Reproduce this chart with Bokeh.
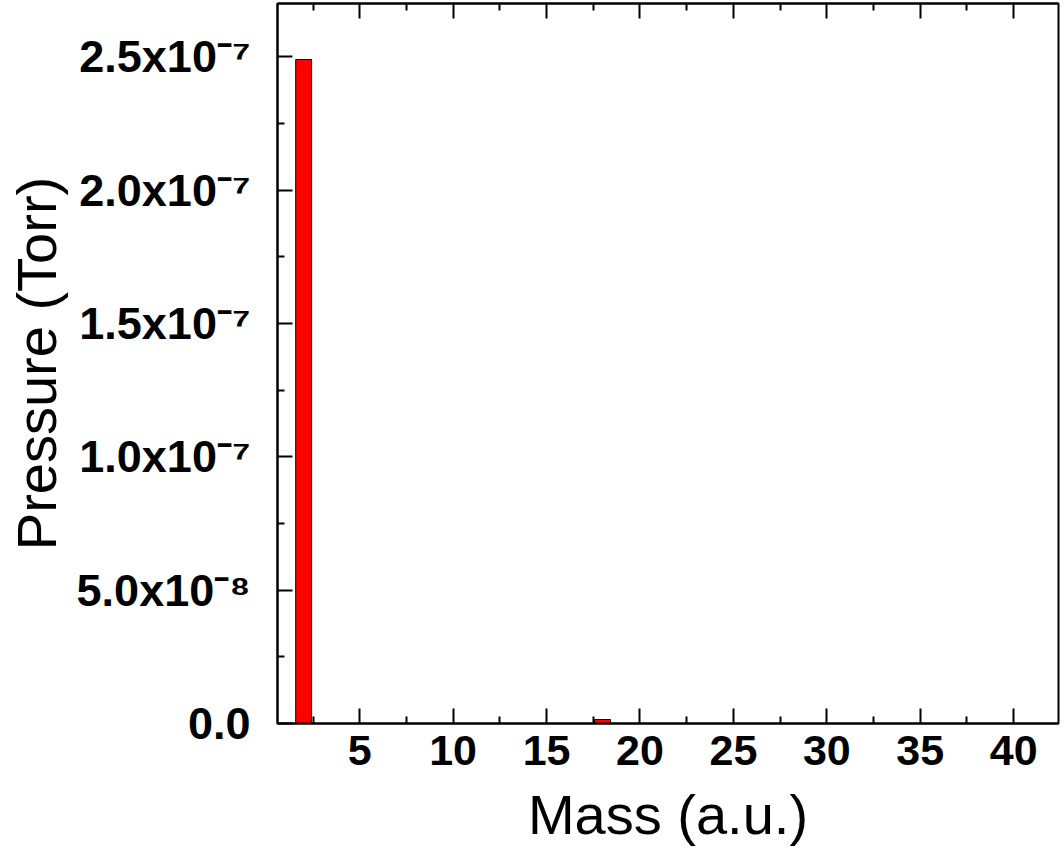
from bokeh.plotting import figure
from bokeh.models import FixedTicker, LinearAxis, Range1d
from bokeh.embed import file_html
from bokeh.resources import INLINE

# ---- data ----
mass = [2, 18]
pressure = [2.49e-7, 1.5e-9]

x_ticks = [5, 10, 15, 20, 25, 30, 35, 40]
x_minor = [2.5, 7.5, 12.5, 17.5, 22.5, 27.5, 32.5, 37.5]
y_ticks = [0.0, 5.0e-8, 1.0e-7, 1.5e-7, 2.0e-7, 2.5e-7]
y_minor = [2.5e-8, 7.5e-8, 1.25e-7, 1.75e-7, 2.25e-7]
y_labels = ["0.0", "5.0x10\u207b\u2078", "1.0x10\u207b\u2077", "1.5x10\u207b\u2077",
            "2.0x10\u207b\u2077", "2.5x10\u207b\u2077"]

FONT = "Liberation Sans"

p = figure(width=1062, height=858, output_backend="svg", toolbar_location=None,
           x_range=Range1d(0.6, 42.4), y_range=Range1d(0, 2.7e-7),
           min_border_left=277, min_border_right=4, min_border_top=3,
           min_border_bottom=135, x_axis_location=None, y_axis_location=None)
p.xgrid.visible = False
p.ygrid.visible = False
p.outline_line_color = "black"
p.outline_line_width = 2
p.background_fill_color = "white"
p.border_fill_color = "white"

p.vbar(x=mass, top=pressure, width=0.85, fill_color="#FF0000",
       line_color="black", line_width=1)


def style_ticks(ax):
    ax.major_tick_in = 15
    ax.major_tick_out = 0
    ax.minor_tick_in = 7
    ax.minor_tick_out = 0
    ax.axis_line_width = 2
    ax.major_tick_line_width = 2
    ax.minor_tick_line_width = 2


# bottom axis
xa = LinearAxis(ticker=FixedTicker(ticks=x_ticks, minor_ticks=x_minor))
xa.axis_label = "Mass (a.u.)"
xa.axis_label_text_font = FONT
xa.axis_label_text_font_style = "normal"
xa.axis_label_text_font_size = "56px"
xa.axis_label_text_color = "black"
xa.axis_label_standoff = 15
xa.major_label_text_font = FONT
xa.major_label_text_font_style = "bold"
xa.major_label_text_font_size = "43px"
xa.major_label_text_color = "black"
xa.major_label_standoff = 12
style_ticks(xa)
p.add_layout(xa, "below")

# top axis (ticks only, labels not drawn)
ta = LinearAxis(ticker=FixedTicker(ticks=x_ticks, minor_ticks=x_minor))
ta.major_label_text_color = None
ta.major_label_text_font_size = "10px"
ta.major_label_standoff = 0
style_ticks(ta)
p.add_layout(ta, "above")

# left axis
ya = LinearAxis(ticker=FixedTicker(ticks=y_ticks, minor_ticks=y_minor))
ya.major_label_overrides = {v: s for v, s in zip(y_ticks, y_labels)}
ya.major_label_text_color = "black"
ya.major_label_text_font = FONT
ya.major_label_text_font_style = "bold"
ya.major_label_text_font_size = "45px"
ya.major_label_standoff = 27
ya.axis_label = "Pressure (Torr)"
ya.axis_label_text_font = FONT
ya.axis_label_text_font_style = "normal"
ya.axis_label_text_font_size = "56px"
ya.axis_label_text_color = "black"
ya.axis_label_standoff = 6
style_ticks(ya)
p.add_layout(ya, "left")

open("out.html", "w").write(file_html(p, INLINE))
